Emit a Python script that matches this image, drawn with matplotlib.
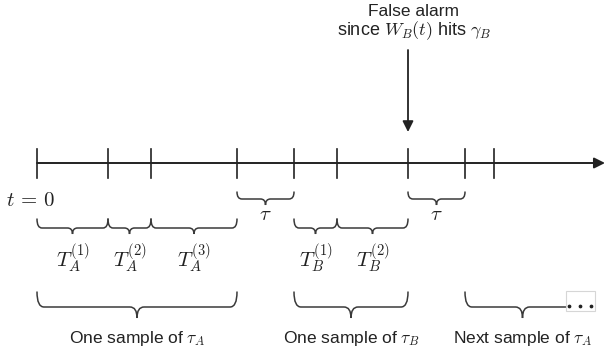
import matplotlib
matplotlib.use('Agg')
import matplotlib.pyplot as plt
from matplotlib.path import Path
from matplotlib.patches import PathPatch, Rectangle

plt.rcParams['font.family'] = ['Liberation Sans', 'DejaVu Sans']
plt.rcParams['mathtext.fontset'] = 'cm'

# event times along the time line (drawing units, t = 0 at first tick)
ticks = [37, 108, 151, 237, 294, 337, 408, 465, 494]
axis_end = 605
alarm_tick = 6

# inter-arrival braces (tick index pairs) and their labels
sub_spans = [(0, 1), (1, 2), (2, 3), (4, 5), (5, 6)]
sub_labels = [r'$T_A^{(1)}$', r'$T_A^{(2)}$', r'$T_A^{(3)}$',
              r'$T_B^{(1)}$', r'$T_B^{(2)}$']

# dead time braces
tau_spans = [(3, 4), (6, 7)]

# sample braces
sample_spans = [(37, 237), (294, 408), (465, 580)]
sample_labels = [r'One sample of $\tau_A$', r'One sample of $\tau_B$',
                 r'Next sample of $\tau_A$']

# continuation dots
dots_x = [569, 580, 591]

ink = '#222222'
brace_col = '#3a3a3a'


def brace(ax, x1, x2, ytop, yline, ytip, r=6, lw=1.1):
    xm = (x1 + x2) / 2
    verts = [(x1, ytop), (x1, yline), (x1 + r, yline),
             (xm - r, yline), (xm, yline), (xm, ytip),
             (xm, yline), (xm + r, yline),
             (x2 - r, yline), (x2, yline), (x2, ytop)]
    codes = [Path.MOVETO, Path.CURVE3, Path.CURVE3,
             Path.LINETO, Path.CURVE3, Path.CURVE3,
             Path.CURVE3, Path.CURVE3,
             Path.LINETO, Path.CURVE3, Path.CURVE3]
    ax.add_patch(PathPatch(Path(verts, codes), fill=False,
                           edgecolor=brace_col, lw=lw, capstyle='round'))
    return xm


fig = plt.figure(figsize=(6.06, 3.58), dpi=100)
ax = fig.add_axes([0, 0, 1, 1])
ax.set_xlim(0, 606)
ax.set_ylim(358, 0)
ax.axis('off')

# time line with arrow
y_axis = 163
ax.annotate('', xy=(axis_end, y_axis), xytext=(ticks[0], y_axis),
            arrowprops=dict(arrowstyle='-|>', lw=1.4, color=ink,
                            mutation_scale=16, shrinkA=0, shrinkB=0))
for x in ticks:
    ax.plot([x, x], [149, 178], color=ink, lw=1.2)

ax.text(30, 200, r'$t\,=\,0$', fontsize=15, color=ink,
        ha='center', va='center')

# false alarm arrow
xa = ticks[alarm_tick]
ax.annotate('', xy=(xa, 132), xytext=(xa, 50),
            arrowprops=dict(arrowstyle='-|>', lw=1.3, color=ink,
                            mutation_scale=16, shrinkA=0, shrinkB=0))
ax.text(413, 11, 'False alarm', fontsize=12.5, color=ink,
        ha='center', va='center')
ax.text(414, 31, r'since $W_B(t)$ hits $\gamma_B$', fontsize=13,
        color=ink, ha='center', va='center')

# tau braces
for a, b in tau_spans:
    xm = brace(ax, ticks[a], ticks[b], 192, 199, 205, r=5)
    ax.text(xm, 214, r'$\tau$', fontsize=15, color=ink,
            ha='center', va='center')

# inter-arrival braces
for (a, b), lab in zip(sub_spans, sub_labels):
    xm = brace(ax, ticks[a], ticks[b], 219, 228, 234, r=5)
    ax.text(xm, 258, lab, fontsize=15, color=ink,
            ha='center', va='center')

# sample braces
for (x1, x2), lab in zip(sample_spans, sample_labels):
    xm = brace(ax, x1, x2, 292, 307, 318, r=7)
    ax.text(xm, 339, lab, fontsize=12.5, color=ink,
            ha='center', va='center')

# continuation box
ax.add_patch(Rectangle((566, 291), 29, 20, facecolor='white',
                       edgecolor='#d6d6d6', lw=0.8, zorder=3))
ax.plot(dots_x, [306] * len(dots_x), 'o', color=ink, ms=1.7, zorder=4)

fig.savefig('out.png', dpi=100)
